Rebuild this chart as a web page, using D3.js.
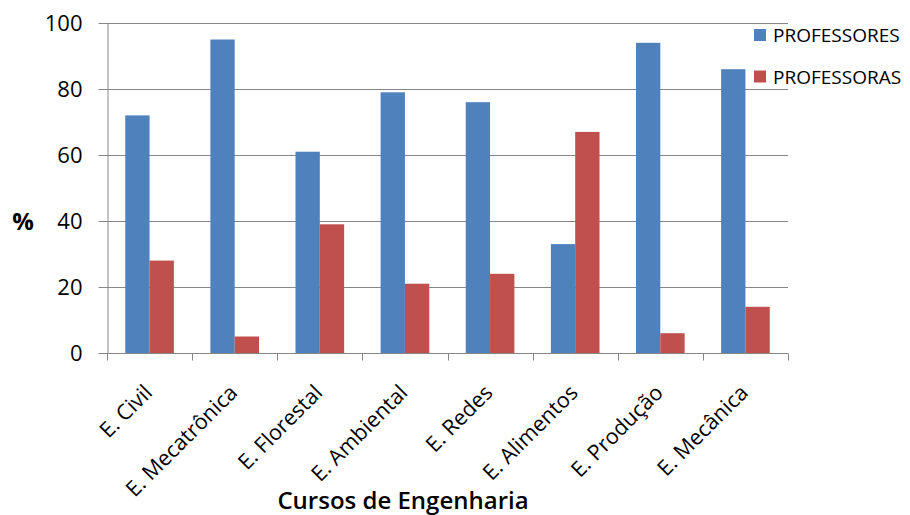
<!DOCTYPE html>
<html>
<head>
<meta charset="utf-8">
<script src="https://cdn.jsdelivr.net/npm/d3@7"></script>
<style>
  html, body { margin: 0; padding: 0; background: #fff; }
  svg { display: block; }
  text { font-family: "Open Sans", "Noto Sans", sans-serif; fill: #000; }
</style>
</head>
<body>
<svg id="chart" width="910" height="515"></svg>
<script>
// Engineering courses and share (%) of male / female teachers
const courses = ["E. Civil", "E. Mecatrônica", "E. Florestal", "E. Ambiental",
                 "E. Redes", "E. Alimentos", "E. Produção", "E. Mecânica"];
const professores = [72, 95, 61, 79, 76, 33, 94, 86];
const professoras = [28, 5, 39, 21, 24, 67, 6, 14];
const seriesNames = ["PROFESSORES", "PROFESSORAS"];
const seriesColors = ["#4F81BD", "#C0504D"];
const yTicks = [0, 20, 40, 60, 80, 100];
const yLabel = "%";
const xLabel = "Cursos de Engenharia";

const svg = d3.select("#chart");
const plot = { left: 107, right: 788, top: 23, bottom: 353 };

const x = d3.scaleBand().domain(courses).range([plot.left, plot.right]).padding(0);
const bw = x.bandwidth();
// Two bars per group with a 150% gap between groups
const barW = bw / 3.5;
const sub = d3.scaleBand().domain(seriesNames)
  .range([bw * 0.75 / 3.5, bw * 0.75 / 3.5 + 2 * barW]).padding(0);
const y = d3.scaleLinear().domain([0, 100]).range([plot.bottom, plot.top]);

const gridColor = "#878787";

// Horizontal gridlines
svg.append("g").selectAll("line").data(yTicks).join("line")
  .attr("x1", plot.left).attr("x2", plot.right)
  .attr("y1", d => Math.round(y(d)) + 0.5).attr("y2", d => Math.round(y(d)) + 0.5)
  .attr("stroke", gridColor).attr("stroke-width", 1);

// Y axis
const yAxis = svg.append("g")
  .attr("transform", `translate(${plot.left + 0.5},0)`)
  .call(d3.axisLeft(y).tickValues(yTicks).tickSize(9).tickPadding(16).tickSizeOuter(0));
yAxis.select(".domain").attr("stroke", gridColor);
yAxis.selectAll(".tick line").attr("stroke", gridColor);
yAxis.selectAll(".tick text")
  .style("font-size", "22px").attr("fill", "#000")
  .attr("font-family", "Open Sans, sans-serif");

// Bars
const rows = courses.map((c, i) => ({ course: c, values: [professores[i], professoras[i]] }));
const groups = svg.append("g").selectAll("g").data(rows).join("g")
  .attr("transform", d => `translate(${x(d.course)},0)`);
groups.selectAll("rect")
  .data(d => d.values.map((v, k) => ({ key: seriesNames[k], value: v, color: seriesColors[k] })))
  .join("rect")
  .attr("x", d => sub(d.key))
  .attr("width", sub.bandwidth())
  .attr("y", d => y(d.value))
  .attr("height", d => y(0) - y(d.value))
  .attr("fill", d => d.color);

// X axis with ticks between categories
const xAxisY = Math.round(y(0)) + 0.5;
const xg = svg.append("g");
xg.append("line")
  .attr("x1", plot.left).attr("x2", plot.right)
  .attr("y1", xAxisY).attr("y2", xAxisY).attr("stroke", gridColor);
const boundaries = courses.map(c => x(c)).concat([plot.right]);
xg.selectAll("line.tk").data(boundaries).join("line").attr("class", "tk")
  .attr("x1", d => Math.round(d) + 0.5).attr("x2", d => Math.round(d) + 0.5)
  .attr("y1", xAxisY).attr("y2", xAxisY + 7).attr("stroke", gridColor);

// Rotated category labels
xg.selectAll("text").data(courses).join("text")
  .attr("text-anchor", "end")
  .attr("transform", d => `translate(${x(d) + bw / 2 + 4},${plot.bottom + 41}) rotate(-45)`)
  .style("font-size", "21.5px")
  .text(d => d);

// Axis titles
svg.append("text")
  .attr("x", 23).attr("y", 230)
  .attr("text-anchor", "middle")
  .style("font-size", "24px").style("font-weight", "bold")
  .text(yLabel);
svg.append("text")
  .attr("x", 403).attr("y", 509)
  .attr("text-anchor", "middle")
  .style("font-size", "24px").style("font-weight", "600")
  .text(xLabel);

// Legend
const legend = svg.append("g").selectAll("g").data(seriesNames).join("g")
  .attr("transform", (d, i) => `translate(754,${29 + i * 41.5})`);
legend.append("rect").attr("width", 12).attr("height", 12)
  .attr("fill", (d, i) => seriesColors[i]);
legend.append("text").attr("x", 19).attr("y", 13)
  .style("font-size", "19px").text(d => d);
</script>
</body>
</html>
